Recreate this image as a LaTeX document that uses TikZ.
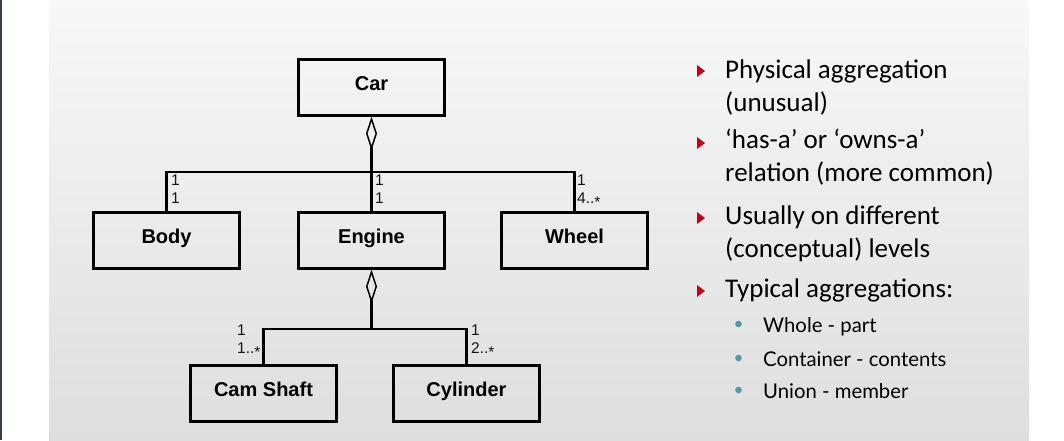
\documentclass[tikz,border=0pt]{standalone}
\usepackage{fontspec}
\newfontfamily\umlfont{Liberation Sans}
\newfontfamily\slidefont{Carlito}
\newfontfamily\subfont{Lato}
\usetikzlibrary{arrows.meta}
\definecolor{slidetop}{RGB}{248,248,248}
\definecolor{slidebottom}{RGB}{222,222,222}
\definecolor{bulletred}{RGB}{192,0,24}
\definecolor{dotteal}{RGB}{90,150,163}
\definecolor{multgray}{RGB}{20,20,20}
\definecolor{edgegray}{RGB}{58,63,68}
\newcommand{\manymark}{..\raisebox{-4pt}{*}}

\begin{document}
\begin{tikzpicture}
  [x=1pt,y=-1pt,
   class/.style={draw,line width=3pt,minimum width=146pt,minimum height=56pt,inner sep=0pt,
     text height=15pt,text depth=8pt,
     font=\umlfont\bfseries\fontsize{20}{22}\selectfont},
   mult/.style={align=left,inner sep=0pt,text depth=0pt,anchor=south west,text=multgray,
     font=\umlfont\fontsize{15.5}{18.5}\selectfont},
   link/.style={line width=2.8pt},
   agg/.style={-{Diamond[open,length=34pt,width=11pt,line width=1.5pt]}},
   item/.style={align=left,inner sep=0pt,text depth=0pt,anchor=south west,
     font=\slidefont\fontsize{27}{33}\selectfont},
   subitem/.style={inner sep=0pt,text depth=0pt,anchor=south west,
     font=\subfont\fontsize{20.3}{24}\selectfont}]
  \useasboundingbox (0,0) rectangle (1064,440);
  \fill[top color=slidetop,bottom color=slidebottom] (49,0) rectangle (1029,440);
  \fill[edgegray] (0,0) rectangle (1.5,440);

  \node[class] (car) at (371.5,87) {Car};
  \node[class] (body) at (166.5,240) {Body};
  \node[class] (engine) at (371.5,240) {Engine};
  \node[class] (wheel) at (574.5,240) {Wheel};
  \node[class] (camshaft) at (263.5,393) {Cam Shaft};
  \node[class] (cylinder) at (466.5,393) {Cylinder};
  \coordinate (carbar) at (371.5,172);
  \coordinate (enginebar) at (371.5,329);

  \draw[link] (body.north) |- (carbar) -| (wheel.north);
  \draw[link,agg] (engine.north) -- (car.south);
  \draw[link] (camshaft.north) |- (enginebar) -| (cylinder.north);
  \draw[link,agg] (enginebar) -- (engine.south);

  \node[mult] (bodymult) at (171,204) {1\\1};
  \node[mult] (enginemult) at (375,204) {1\\1};
  \node[mult] (wheelmult) at (577,204) {1\\4\manymark};
  \node[mult] (camshaftmult) at (237,354) {1\\1\manymark};
  \node[mult] (cylindermult) at (471,354) {1\\2\manymark};

  \node[item] (aggphys) at (725,112) {Physical aggregation\\(unusual)};
  \node[item] (aggrel) at (725,182) {‘has-a’ or ‘owns-a’\\relation (more common)};
  \node[item] (agglevel) at (725,258) {Usually on different\\(conceptual) levels};
  \node[item] (aggtypes) at (725,298) {Typical aggregations:};
  \node[subitem] (wholepart) at (763,333) {Whole - part};
  \node[subitem] (container) at (763,367) {Container - contents};
  \node[subitem] (union) at (763,399) {Union - member};

  \foreach \y in {71,143,218,291}
    \fill[bulletred] (697,\y-6) -- (705,\y) -- (697,\y+6) -- cycle;
  \foreach \y in {324,358,390}
    \fill[dotteal] (738.5,\y) circle (3.3);
\end{tikzpicture}
\end{document}
